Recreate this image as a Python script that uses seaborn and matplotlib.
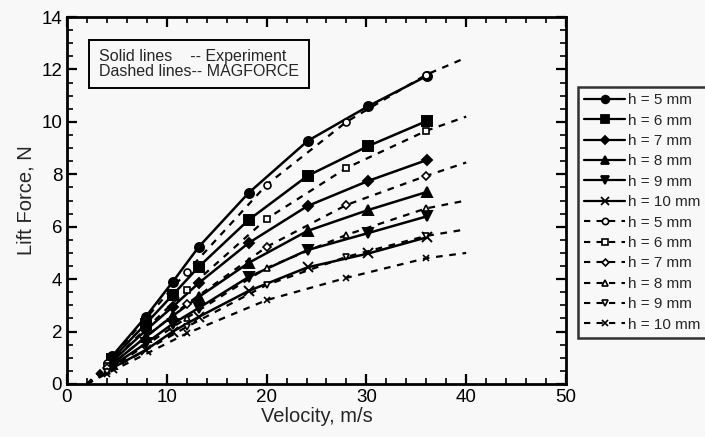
import matplotlib
matplotlib.use("Agg")
import matplotlib.pyplot as plt
from matplotlib.lines import Line2D
from matplotlib.ticker import MultipleLocator
import seaborn as sns
import pandas as pd

# Gap heights (mm)
gaps = [5, 6, 7, 8, 9, 10]

# Measured lift force (solid lines)
exp_velocity = [4.5, 7.9, 10.6, 13.2, 18.2, 24.1, 30.2, 36.1]
exp_h5 = [1.05, 2.57, 3.9, 5.23, 7.29, 9.27, 10.6, 11.76]
exp_h6 = [0.95, 2.3, 3.4, 4.47, 6.26, 7.94, 9.08, 10.04]
exp_h7 = [0.85, 2.05, 2.95, 3.85, 5.38, 6.79, 7.75, 8.55]
exp_h8 = [0.75, 1.8, 2.6, 3.32, 4.62, 5.84, 6.64, 7.33]
exp_h9 = [0.68, 1.55, 2.3, 2.9, 4.08, 5.11, 5.76, 6.4]
exp_h10 = [0.6, 1.3, 2.0, 2.56, 3.55, 4.45, 4.98, 5.6]

# MAGFORCE predictions (dashed lines); symbols only at the inner points
mag_velocity = [2, 4, 12, 20, 28, 36, 40]
mag_h5 = [0.0, 0.8, 4.28, 7.6, 10.0, 11.8, 12.45]
mag_h6 = [0.0, 0.7, 3.59, 6.3, 8.24, 9.66, 10.2]
mag_h7 = [0.0, 0.6, 3.05, 5.23, 6.83, 7.94, 8.45]
mag_h8 = [0.0, 0.5, 2.52, 4.43, 5.69, 6.7, 7.0]
mag_h9 = [0.0, 0.45, 2.18, 3.78, 4.85, 5.65, 5.9]
mag_h10 = [0.0, 0.4, 1.93, 3.2, 4.05, 4.8, 5.0]

exp_series = [exp_h5, exp_h6, exp_h7, exp_h8, exp_h9, exp_h10]
mag_series = [mag_h5, mag_h6, mag_h7, mag_h8, mag_h9, mag_h10]
markers = ["o", "s", "D", "^", "v", "x"]
msizes = [6.5, 6.5, 5.5, 6.5, 6.5, 6.5]
DASH = (0, (3, 3))

sns.set_theme(style="white")
plt.rcParams["font.family"] = ["Liberation Sans", "DejaVu Sans"]

bg = "#f8f8f8"
fig = plt.figure(figsize=(7.05, 4.37), dpi=100, facecolor=bg)
ax = fig.add_axes([67 / 705, 1 - 384 / 437, (566 - 67) / 705, (384 - 17) / 437])
ax.set_facecolor(bg)

handles = []
for h, ys, m, ms in zip(gaps, exp_series, markers, msizes):
    df = pd.DataFrame({"v": exp_velocity, "F": ys})
    sns.lineplot(data=df, x="v", y="F", ax=ax, color="black", lw=1.8,
                 marker=m, markersize=ms, markerfacecolor="black",
                 markeredgecolor="black", markeredgewidth=1.4, sort=False)
    handles.append(Line2D([], [], color="black", lw=1.6, marker=m, markersize=ms - 1,
                          markerfacecolor="black", markeredgecolor="black",
                          markeredgewidth=1.3, label=f"h = {h} mm"))

for h, ys, m, ms in zip(gaps, mag_series, markers, msizes):
    df = pd.DataFrame({"v": mag_velocity, "F": ys})
    sns.lineplot(data=df, x="v", y="F", ax=ax, color="black", lw=1.6,
                 linestyle=DASH, sort=False)
    pts = df.iloc[1:-1]
    sns.lineplot(data=pts, x="v", y="F", ax=ax, color="black", linestyle="none",
                 marker=m, markersize=ms - 1.5, markerfacecolor="white",
                 markeredgecolor="black", markeredgewidth=1.2, sort=False)
    handles.append(Line2D([], [], color="black", lw=1.5, linestyle=DASH,
                          marker=m, markersize=ms - 2, markerfacecolor="white",
                          markeredgecolor="black", markeredgewidth=1.2,
                          label=f"h = {h} mm"))

ax.set_xlim(0, 50)
ax.set_ylim(0, 14)
ax.xaxis.set_major_locator(MultipleLocator(10))
ax.xaxis.set_minor_locator(MultipleLocator(2))
ax.yaxis.set_major_locator(MultipleLocator(2))
ax.yaxis.set_minor_locator(MultipleLocator(0.5))
ax.tick_params(which="both", direction="in", top=True, right=True,
               bottom=True, left=True, colors="black", labelsize=13.5)
ax.tick_params(which="major", length=7, width=1.6)
ax.tick_params(which="minor", length=4, width=1.2)
for s in ax.spines.values():
    s.set_color("black")
    s.set_linewidth(2)

ax.set_xlabel("Velocity, m/s", fontsize=14.5, labelpad=1)
ax.set_ylabel("Lift Force, N", fontsize=14.5, labelpad=4)

ax.text(0.064, 0.912, "Solid lines    -- Experiment\nDashed lines-- MAGFORCE",
        transform=ax.transAxes, fontsize=11.5, va="top", ha="left",
        linespacing=0.95,
        bbox=dict(boxstyle="square,pad=0.6", facecolor=bg, edgecolor="black", lw=1.4))

leg = fig.legend(handles=handles, loc="upper left",
                 bbox_to_anchor=(578 / 705, 1 - 87 / 437),
                 frameon=True, fancybox=False, fontsize=11, handlelength=2.7,
                 handletextpad=0.15, labelspacing=0.42, borderpad=0.4,
                 borderaxespad=0)
leg.get_frame().set_edgecolor("black")
leg.get_frame().set_linewidth(1.8)
leg.get_frame().set_facecolor(bg)

fig.savefig("out.png", dpi=100, facecolor=bg)
